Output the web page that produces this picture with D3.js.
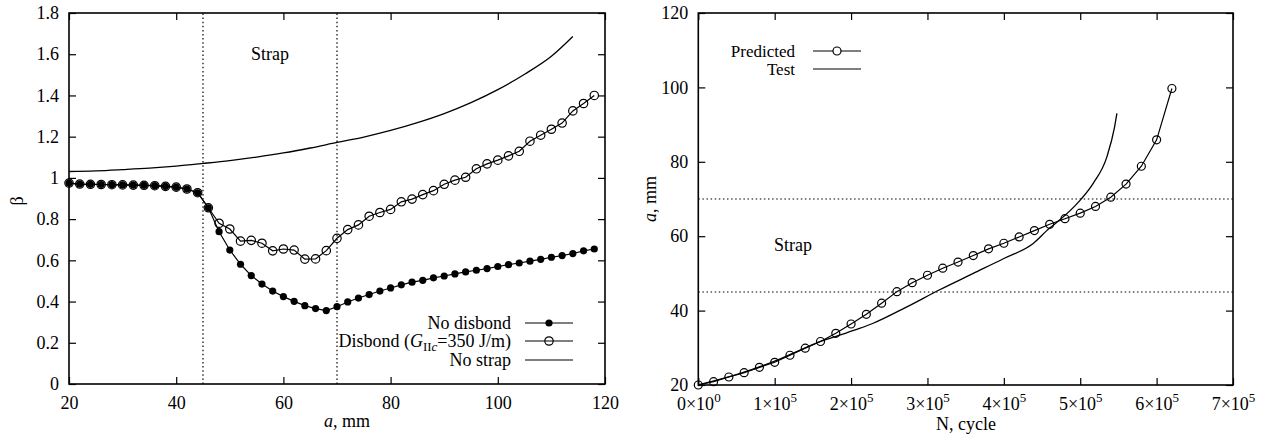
<!DOCTYPE html>
<html>
<head>
<meta charset="utf-8">
<script src="https://cdn.jsdelivr.net/npm/d3@7"></script>
<style>
  body { margin: 0; background: #fff; }
  svg { display: block; }
  text { font-family: "Liberation Serif", "Times New Roman", serif; font-size: 18px; fill: #000; }
</style>
</head>
<body>
<div id="chart"></div>
<script>
// left panel: beta vs crack length a (mm)
const aValues = [20, 22, 24, 26, 28, 30, 32, 34, 36, 38, 40, 42, 44, 46, 48, 50, 52, 54, 56, 58,
  60, 62, 64, 66, 68, 70, 72, 74, 76, 78, 80, 82, 84, 86, 88, 90, 92, 94, 96, 98,
  100, 102, 104, 106, 108, 110, 112, 114, 116, 118];
const betaNoDisbond = [0.975, 0.970, 0.969, 0.968, 0.967, 0.966, 0.965, 0.964, 0.962, 0.959,
  0.955, 0.946, 0.928, 0.855, 0.739, 0.650, 0.581, 0.526, 0.485, 0.451,
  0.424, 0.401, 0.380, 0.366, 0.356, 0.375, 0.398, 0.417, 0.434, 0.451,
  0.466, 0.481, 0.494, 0.503, 0.515, 0.524, 0.534, 0.544, 0.552, 0.560,
  0.570, 0.579, 0.587, 0.596, 0.605, 0.615, 0.623, 0.633, 0.646, 0.655];
const betaDisbond = [0.975, 0.970, 0.969, 0.968, 0.967, 0.966, 0.965, 0.964, 0.962, 0.959,
  0.955, 0.946, 0.928, 0.855, 0.780, 0.752, 0.693, 0.697, 0.683, 0.646,
  0.655, 0.650, 0.606, 0.607, 0.647, 0.707, 0.749, 0.772, 0.814, 0.832,
  0.847, 0.884, 0.897, 0.919, 0.938, 0.969, 0.989, 1.003, 1.044, 1.068,
  1.086, 1.107, 1.129, 1.178, 1.207, 1.236, 1.266, 1.325, 1.361, 1.400];
const aNoStrap = [20, 25, 30, 35, 40, 45, 50, 55, 60, 65, 70, 75, 80, 85, 90, 95, 100, 105, 110, 114];
const betaNoStrap = [1.031, 1.034, 1.040, 1.047, 1.057, 1.070, 1.084, 1.101, 1.121, 1.145,
  1.172, 1.198, 1.230, 1.268, 1.312, 1.365, 1.428, 1.503, 1.590, 1.686];
const strapEdgesA = [45, 70];
const xTicksLeft = [20, 40, 60, 80, 100, 120];
const yTicksLeft = [0, 0.2, 0.4, 0.6, 0.8, 1, 1.2, 1.4, 1.6, 1.8];
const legendLeft = ['No disbond', 'Disbond', 'No strap'];

// right panel: crack length vs cycles
const nPredicted = [0, 20000, 40000, 60000, 80000, 100000, 120000, 140000, 160000, 180000,
  200000, 220000, 240000, 260000, 280000, 300000, 320000, 340000, 360000, 380000,
  400000, 420000, 440000, 460000, 480000, 500000, 520000, 540000, 560000, 580000,
  600000, 620000];
const aPredicted = [20.0, 20.9, 22.15, 23.3, 24.75, 26.1, 28.0, 29.9, 31.7, 33.9,
  36.4, 39.0, 42.0, 45.1, 47.5, 49.5, 51.4, 53.05, 54.8, 56.6,
  58.1, 59.8, 61.5, 63.2, 64.7, 66.2, 68.0, 70.5, 74.0, 78.8,
  85.9, 99.7];
const nTest = [0, 55000, 100000, 142000, 160000, 185000, 211000, 229000, 273000, 316000,
  360000, 400000, 438000, 460000, 471000, 500000, 517000, 535000, 545000, 548000];
const aTest = [20, 23.1, 26.4, 30.2, 31.7, 33.4, 35.2, 36.6, 41.0, 45.6,
  50.0, 54.0, 58.0, 62.2, 64.0, 69.7, 74.2, 81.4, 89.4, 93.0];
const strapEdgesN = [45, 70];
const xTicksRight = [0, 1, 2, 3, 4, 5, 6, 7];
const yTicksRight = [20, 40, 60, 80, 100, 120];
const legendRight = ['Predicted', 'Test'];

const width = 1267;
const height = 443;
const tick = 7;

const svg = d3.select('#chart')
  .append('svg')
  .attr('width', width)
  .attr('height', height);

function frame(g, x, y, xTicks, yTicks) {
  const [x0, x1] = x.range();
  const [y0, y1] = y.range();
  const ax = g.append('g').attr('class', 'axes');
  ax.append('g')
    .attr('transform', `translate(0,${y0})`)
    .call(d3.axisBottom(x).tickValues(xTicks).tickSizeInner(-tick).tickSizeOuter(0).tickPadding(12)
      .tickFormat(d => String(d)));
  ax.append('g')
    .attr('transform', `translate(0,${y1})`)
    .call(d3.axisTop(x).tickValues(xTicks).tickSizeInner(-tick).tickSizeOuter(0).tickFormat(''));
  ax.append('g')
    .attr('transform', `translate(${x0},0)`)
    .call(d3.axisLeft(y).tickValues(yTicks).tickSizeInner(-tick).tickSizeOuter(0).tickPadding(10)
      .tickFormat(d => String(d)));
  ax.append('g')
    .attr('transform', `translate(${x1},0)`)
    .call(d3.axisRight(y).tickValues(yTicks).tickSizeInner(-tick).tickSizeOuter(0).tickFormat(''));
  ax.selectAll('.domain').remove();
  ax.selectAll('.tick line').style('stroke', '#000').style('stroke-width', 1.2);
  ax.selectAll('.tick text')
    .style('font-family', '"Liberation Serif", serif')
    .style('font-size', '18px');
  g.append('rect')
    .attr('x', x0).attr('y', y1)
    .attr('width', x1 - x0).attr('height', y0 - y1)
    .style('fill', 'none').style('stroke', '#000').style('stroke-width', 1.6);
  return ax;
}

// ---------- left panel ----------
const xL = d3.scaleLinear().domain([20, 120]).range([69, 605]);
const yL = d3.scaleLinear().domain([0, 1.8]).range([384, 13]);
const gL = svg.append('g');

gL.selectAll('line.edge')
  .data(strapEdgesA)
  .join('line')
  .attr('x1', d => xL(d)).attr('x2', d => xL(d))
  .attr('y1', yL(0)).attr('y2', yL(1.8))
  .style('stroke', '#000').style('stroke-width', 1.2).style('stroke-dasharray', '1.5,2.6');

frame(gL, xL, yL, xTicksLeft, yTicksLeft);

const lineL = d3.line().x(d => xL(d[0])).y(d => yL(d[1]));
const noStrap = aNoStrap.map((a, i) => [a, betaNoStrap[i]]);
const noDisbond = aValues.map((a, i) => [a, betaNoDisbond[i]]);
const disbond = aValues.map((a, i) => [a, betaDisbond[i]]);

gL.append('path')
  .datum(noStrap)
  .attr('d', lineL.curve(d3.curveMonotoneX))
  .style('fill', 'none').style('stroke', '#000').style('stroke-width', 1.3);
lineL.curve(d3.curveLinear);

gL.append('path')
  .datum(noDisbond)
  .attr('d', lineL)
  .style('fill', 'none').style('stroke', '#000').style('stroke-width', 1.2);
gL.selectAll('circle.nd')
  .data(noDisbond)
  .join('circle')
  .attr('cx', d => xL(d[0])).attr('cy', d => yL(d[1]))
  .attr('r', 3.6)
  .style('fill', '#000');

gL.append('path')
  .datum(disbond)
  .attr('d', lineL)
  .style('fill', 'none').style('stroke', '#000').style('stroke-width', 1.2);
gL.selectAll('circle.db')
  .data(disbond)
  .join('circle')
  .attr('cx', d => xL(d[0])).attr('cy', d => yL(d[1]))
  .attr('r', 4.2)
  .style('fill', 'none').style('stroke', '#000').style('stroke-width', 1.2);

gL.append('text')
  .attr('x', 270).attr('y', 60)
  .attr('text-anchor', 'middle')
  .text('Strap');

// left legend
const legL = gL.append('g');
const legRowsL = [323, 341, 360];
legL.selectAll('line')
  .data(legendLeft)
  .join('line')
  .attr('x1', 525).attr('x2', 573)
  .attr('y1', (d, i) => legRowsL[i]).attr('y2', (d, i) => legRowsL[i])
  .style('stroke', '#000').style('stroke-width', 1.2);
legL.append('circle').attr('cx', 549).attr('cy', legRowsL[0]).attr('r', 3.6).style('fill', '#000');
legL.append('circle').attr('cx', 549).attr('cy', legRowsL[1]).attr('r', 4.2)
  .style('fill', 'none').style('stroke', '#000').style('stroke-width', 1.2);
legL.append('text').attr('x', 511).attr('y', legRowsL[0] + 6).attr('text-anchor', 'end').text('No disbond');
const dt = legL.append('text').attr('x', 511).attr('y', legRowsL[1] + 6).attr('text-anchor', 'end');
dt.append('tspan').text('Disbond (');
dt.append('tspan').style('font-style', 'italic').text('G');
dt.append('tspan').attr('dy', 4).style('font-size', '13px').text('II');
dt.append('tspan').style('font-size', '13px').style('font-style', 'italic').text('c');
dt.append('tspan').attr('dy', -4).text('=350 J/m)');
legL.append('text').attr('x', 511).attr('y', legRowsL[2] + 6).attr('text-anchor', 'end').text('No strap');

// axis labels left
const xlabL = gL.append('text').attr('x', 347).attr('y', 427).attr('text-anchor', 'middle');
xlabL.append('tspan').style('font-style', 'italic').text('a');
xlabL.append('tspan').text(', mm');
gL.append('text')
  .attr('transform', 'translate(23,201) rotate(-90)')
  .attr('text-anchor', 'middle')
  .text('β');

// ---------- right panel ----------
const xR = d3.scaleLinear().domain([0, 700000]).range([698.3, 1233]);
const yR = d3.scaleLinear().domain([20, 120]).range([385, 13]);
const gR = svg.append('g');

gR.selectAll('line.edge')
  .data(strapEdgesN)
  .join('line')
  .attr('x1', xR(0)).attr('x2', xR(700000))
  .attr('y1', d => yR(d)).attr('y2', d => yR(d))
  .style('stroke', '#000').style('stroke-width', 1.2).style('stroke-dasharray', '1.5,2.6');

const axR = frame(gR, xR, yR, xTicksRight.map(d => d * 100000), yTicksRight);
// scientific tick labels, e.g. 3x10^5
axR.selectAll('g').filter((d, i) => i === 0).selectAll('.tick text')
  .each(function (d) {
    const t = d3.select(this).text('');
    const m = d / 100000;
    t.append('tspan').text(m + '×10');
    t.append('tspan').attr('dy', -8).style('font-size', '13px').text(m === 0 ? '0' : '5');
  });

const lineR = d3.line().x(d => xR(d[0])).y(d => yR(d[1]));
const test = nTest.map((n, i) => [n, aTest[i]]);
const predicted = nPredicted.map((n, i) => [n, aPredicted[i]]);

gR.append('path')
  .datum(test)
  .attr('d', lineR.curve(d3.curveMonotoneX))
  .style('fill', 'none').style('stroke', '#000').style('stroke-width', 1.3);
lineR.curve(d3.curveLinear);

gR.append('path')
  .datum(predicted)
  .attr('d', lineR)
  .style('fill', 'none').style('stroke', '#000').style('stroke-width', 1.2);
gR.selectAll('circle.pr')
  .data(predicted)
  .join('circle')
  .attr('cx', d => xR(d[0])).attr('cy', d => yR(d[1]))
  .attr('r', 4)
  .style('fill', 'none').style('stroke', '#000').style('stroke-width', 1.2);

gR.append('text')
  .attr('x', 793).attr('y', 251)
  .attr('text-anchor', 'middle')
  .text('Strap');

// right legend
const legRowsR = [51, 69];
const legR = gR.append('g');
legR.selectAll('line')
  .data(legendRight)
  .join('line')
  .attr('x1', 813).attr('x2', 861)
  .attr('y1', (d, i) => legRowsR[i]).attr('y2', (d, i) => legRowsR[i])
  .style('stroke', '#000').style('stroke-width', 1.2);
legR.append('circle').attr('cx', 837).attr('cy', legRowsR[0]).attr('r', 4)
  .style('fill', '#fff').style('stroke', '#000').style('stroke-width', 1.2);
legR.selectAll('text')
  .data(legendRight)
  .join('text')
  .attr('x', 795).attr('y', (d, i) => legRowsR[i] + 6)
  .attr('text-anchor', 'end')
  .style('font-size', '17px')
  .text(d => d);

// axis labels right
gR.append('text')
  .attr('x', 966).attr('y', 430)
  .attr('text-anchor', 'middle')
  .text('N, cycle');
const ylabR = gR.append('text')
  .attr('transform', 'translate(656,199) rotate(-90)')
  .attr('text-anchor', 'middle');
ylabR.append('tspan').style('font-style', 'italic').text('a');
ylabR.append('tspan').text(', mm');
</script>
</body>
</html>
